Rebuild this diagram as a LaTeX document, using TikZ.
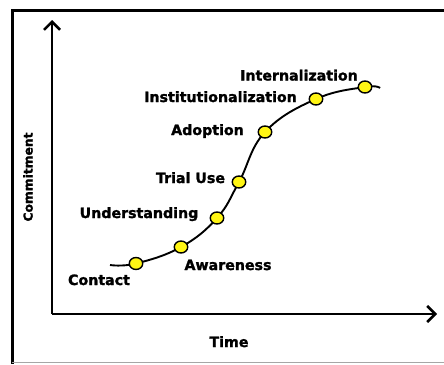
\documentclass[tikz,border=0pt]{standalone}
\usepackage{fontspec}
\setmainfont{DejaVu Sans}
\newfontfamily\heavyfont[FakeBold=1.6]{DejaVu Sans Bold}
\usetikzlibrary{arrows.meta,shapes.geometric}
\definecolor{dotyellow}{RGB}{255,245,20}
\tikzset{
  lbl/.style={font=\heavyfont\fontsize{14.2}{16}\selectfont, anchor=base, inner sep=0pt},
  stagedot/.style={ellipse, draw=black, line width=1.4pt, fill=dotyellow, minimum width=13.5pt, minimum height=12pt, inner sep=0pt},
  axis/.style={line width=2.5pt, -{Straight Barb[length=8pt,width=16pt,line width=2.5pt]}},
  curve/.style={line width=1.9pt},
  frame/.style={line width=3pt, line cap=rect}
}
\begin{document}
\begin{tikzpicture}[x=1pt,y=-1pt]
\useasboundingbox (0,0) rectangle (444,364);
% frame
\coordinate (fbl) at (12,362);
\coordinate (ftl) at (12,10);
\coordinate (ftr) at (446,10);
\draw[frame] (fbl) -- (ftl) -- (ftr);
\coordinate (gbl) at (12,362);
\coordinate (gbr) at (444,362);
\draw[gray!70, line width=0.8pt] (gbl) -- (gbr);
% axes
\coordinate (o) at (52,314);
\coordinate (ytop) at (52,20);
\coordinate (xend) at (437,314);
\draw[axis] (o) -- (ytop);
\draw[axis] (o) -- (xend);
% curve points
\coordinate (cs) at (110,265);
\coordinate (c1) at (136,263.5);
\coordinate (c2) at (181,247);
\coordinate (c3) at (217,218);
\coordinate (c4) at (239,182);
\coordinate (c5) at (265,132);
\coordinate (c6) at (316,99);
\coordinate (c7) at (365,87);
\coordinate (ce) at (380,88);
\draw[curve] plot[smooth, tension=0.7] coordinates {(cs) (c1) (c2) (c3) (c4) (c5) (c6) (c7) (ce)};
% dots
\node[stagedot] (d1) at (c1) {};
\node[stagedot] (d2) at (c2) {};
\node[stagedot] (d3) at (c3) {};
\node[stagedot] (d4) at (c4) {};
\node[stagedot] (d5) at (c5) {};
\node[stagedot] (d6) at (c6) {};
\node[stagedot] (d7) at (c7) {};
% labels
\node[lbl] (l1) at (99,285) {Contact};
\node[lbl] (l2) at (228,270) {Awareness};
\node[lbl] (l3) at (139,218) {Understanding};
\node[lbl] (l4) at (190.5,183) {Trial Use};
\node[lbl] (l5) at (207.5,135) {Adoption};
\node[lbl] (l6) at (220.5,102) {Institutionalization};
\node[lbl] (l7) at (299,80.5) {Internalization};
\node[lbl] (lt) at (229,347) {Time};
\node[font=\heavyfont\fontsize{12.3}{14}\selectfont, rotate=90, inner sep=0pt] (lc) at (28,177) {Commitment};
\end{tikzpicture}
\end{document}
